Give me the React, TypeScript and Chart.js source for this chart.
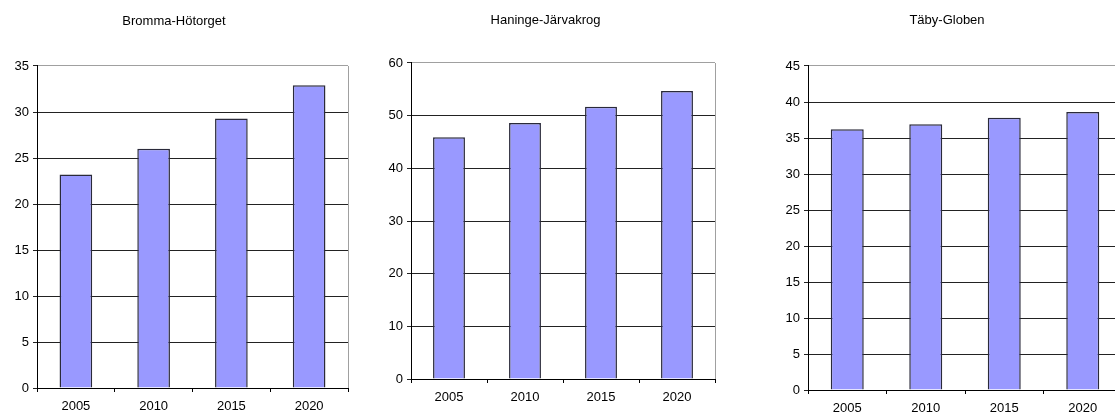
import React, { useEffect, useRef } from "react";
import { Chart, registerables } from "chart.js";

Chart.register(...registerables);

// ---- Data ----
const categories = ["2005", "2010", "2015", "2020"];

const brommaTitle = "Bromma-Hötorget";
const brommaValues = [23.2, 26.0, 29.3, 32.9];
const brommaMax = 35;
const brommaStep = 5;

const haningeTitle = "Haninge-Järvakrog";
const haningeValues = [45.9, 48.6, 51.7, 54.7];
const haningeMax = 60;
const haningeStep = 10;

const tabyTitle = "Täby-Globen";
const tabyValues = [36.2, 36.9, 37.8, 38.6];
const tabyMax = 45;
const tabyStep = 5;

// ---- Layout (positions only) ----
type PanelLayout = {
  left: number;
  width: number;
  yAxisWidth: number;
  rightPad: number;
  titleCenterY: number;
  plotTop: number;
  plotBottom: number;
};

const H = 416;
const FONT = "'Liberation Sans', Arial, Helvetica, sans-serif";
const FONT_SIZE = 13;
const TITLE_SIZE = 13;

const borderPlugin = {
  id: "plotBorder",
  beforeDatasetsDraw(chart: any) {
    const { ctx, chartArea } = chart;
    ctx.save();
    ctx.strokeStyle = "#a0a0a0";
    ctx.lineWidth = 1;
    const x = Math.round(chartArea.right) + 0.5;
    ctx.beginPath();
    ctx.moveTo(x, chartArea.top);
    ctx.lineTo(x, chartArea.bottom);
    ctx.stroke();
    ctx.restore();
  },
};

function Panel(props: {
  title: string;
  values: number[];
  max: number;
  step: number;
  layout: PanelLayout;
}) {
  const ref = useRef<HTMLCanvasElement | null>(null);
  const { title, values, max, step, layout } = props;

  useEffect(() => {
    if (!ref.current) return;
    const lh = TITLE_SIZE * 1.2;
    const titleTop = layout.titleCenterY - lh / 2;
    const titleBottom = layout.plotTop - titleTop - lh;
    const xAxisHeight = H - layout.plotBottom;
    const chart = new Chart(ref.current, {
      type: "bar",
      data: {
        labels: categories,
        datasets: [
          {
            data: values,
            backgroundColor: "#9999ff",
            borderColor: "#2a2a3a",
            borderWidth: 1.5,
            categoryPercentage: 1,
            barPercentage: 0.42,
          },
        ],
      },
      options: {
        animation: false,
        responsive: false,
        devicePixelRatio: 1,
        layout: { padding: { left: 0, right: layout.rightPad, top: 0, bottom: 0 } },
        plugins: {
          legend: { display: false },
          tooltip: { enabled: false },
          title: {
            display: true,
            text: title,
            color: "#000",
            font: { family: FONT, size: TITLE_SIZE, weight: "normal" },
            padding: { top: titleTop, bottom: titleBottom },
          },
        },
        scales: {
          x: {
            offset: true,
            grid: {
              offset: true,
              drawOnChartArea: false,
              drawTicks: true,
              tickLength: 4,
              color: "#000",
            },
            border: { display: true, color: "#000", width: 1 },
            ticks: {
              color: "#000",
              padding: 7,
              maxRotation: 0,
              font: { family: FONT, size: FONT_SIZE },
            },
            afterFit: (s: any) => {
              s.height = xAxisHeight;
            },
          },
          y: {
            min: 0,
            max: max,
            ticks: {
              stepSize: step,
              color: "#000",
              padding: 4,
              font: { family: FONT, size: FONT_SIZE },
            },
            grid: {
              drawTicks: true,
              tickLength: 4,
              color: (c: any) =>
                c.tick && c.tick.value === max ? "#a0a0a0" : "#222222",
              tickColor: "#222222",
            },
            border: { display: true, color: "#000", width: 1 },
            afterFit: (s: any) => {
              s.width = layout.yAxisWidth;
            },
          },
        },
      },
      plugins: [borderPlugin],
    });
    return () => chart.destroy();
  }, [title, values, max, step, layout]);

  return (
    <div
      style={{
        position: "absolute",
        left: layout.left,
        top: 0,
        width: layout.width,
        height: H,
      }}
    >
      <canvas
        ref={ref}
        width={layout.width}
        height={H}
        style={{ width: layout.width, height: H, display: "block" }}
      />
    </div>
  );
}

const layout1: PanelLayout = {
  left: 0,
  width: 356,
  yAxisWidth: 37,
  rightPad: 8,
  titleCenterY: 21,
  plotTop: 66,
  plotBottom: 388,
};
const layout2: PanelLayout = {
  left: 376,
  width: 348,
  yAxisWidth: 35,
  rightPad: 9,
  titleCenterY: 20,
  plotTop: 63,
  plotBottom: 379,
};
const layout3: PanelLayout = {
  left: 772,
  width: 358,
  yAxisWidth: 36,
  rightPad: 8,
  titleCenterY: 20,
  plotTop: 66,
  plotBottom: 390,
};

export default function App() {
  return (
    <div
      style={{
        position: "absolute",
        left: 0,
        top: 0,
        width: 1115,
        height: H,
        overflow: "hidden",
        background: "#fff",
      }}
    >
      <Panel title={brommaTitle} values={brommaValues} max={brommaMax} step={brommaStep} layout={layout1} />
      <Panel title={haningeTitle} values={haningeValues} max={haningeMax} step={haningeStep} layout={layout2} />
      <Panel title={tabyTitle} values={tabyValues} max={tabyMax} step={tabyStep} layout={layout3} />
    </div>
  );
}
